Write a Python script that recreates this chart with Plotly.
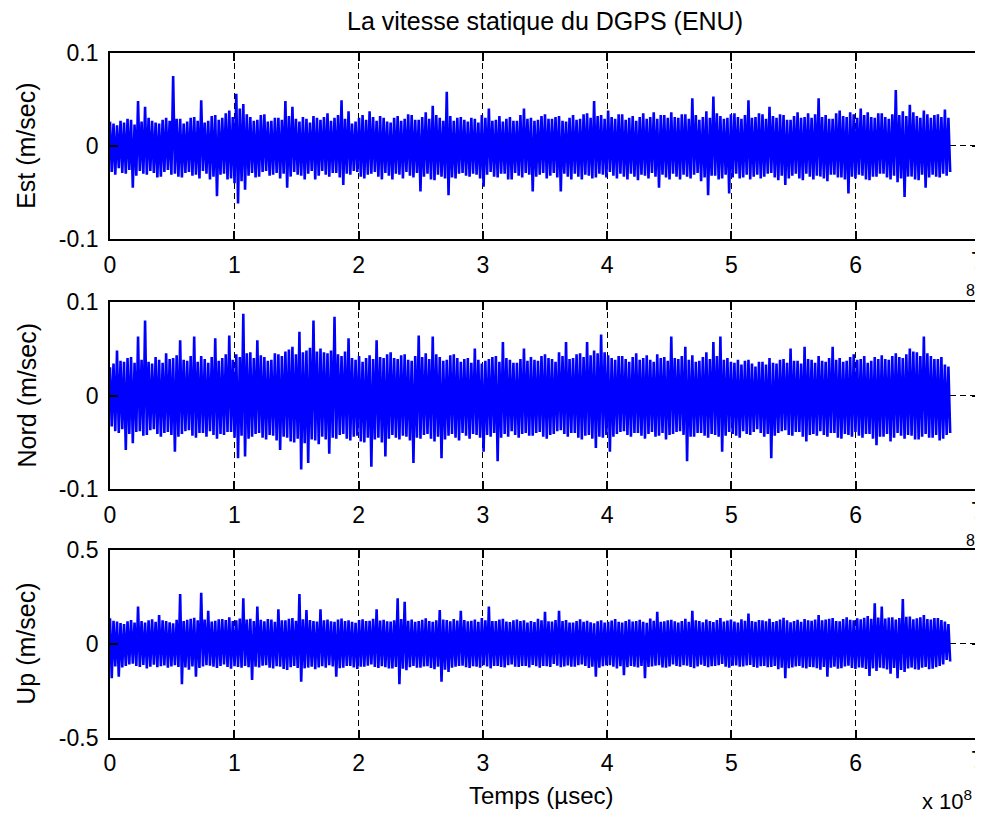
import numpy as np
import plotly.graph_objects as go

# Vitesse statique DGPS, en mm/s (pics hauts / pics bas)
t_end = 6.76  # x 10^8 usec

est_hi = [26, 24, 22, 27, 25, 29, 28, 23, 48, 26, 42, 30, 27, 25, 24, 28, 30, 27, 75, 29,
          29, 24, 26, 30, 31, 27, 49, 25, 27, 32, 33, 28, 30, 35, 38, 31, 56, 40, 45, 34,
          31, 27, 28, 33, 34, 26, 27, 30, 30, 28, 48, 32, 42, 29, 26, 31, 29, 25, 32, 30,
          28, 31, 35, 27, 30, 33, 49, 29, 37, 24, 26, 30, 33, 28, 37, 31, 27, 32, 30, 26,
          25, 30, 32, 27, 29, 34, 33, 28, 28, 31, 36, 29, 43, 33, 30, 27, 58, 32, 27, 30,
          31, 28, 26, 30, 29, 25, 33, 30, 40, 27, 28, 32, 26, 29, 31, 27, 27, 33, 40, 29,
          30, 27, 28, 32, 34, 29, 29, 31, 32, 27, 26, 30, 33, 28, 29, 34, 35, 30, 48, 32,
          33, 29, 38, 31, 29, 34, 34, 28, 30, 32, 27, 31, 35, 29, 31, 36, 29, 33, 33, 30,
          36, 31, 30, 34, 34, 29, 51, 33, 28, 31, 37, 30, 53, 35, 32, 29, 30, 34, 35, 31,
          29, 33, 49, 30, 31, 35, 34, 29, 42, 32, 30, 34, 33, 28, 28, 32, 36, 30, 31, 35,
          30, 34, 51, 31, 33, 29, 29, 35, 38, 32, 31, 36, 34, 30, 40, 33, 36, 31, 30, 35,
          35, 31, 29, 34, 60, 33, 37, 32, 44, 36, 32, 30, 38, 34, 30, 33, 34, 31, 39, 30]
est_lo = [-28, -31, -24, -29, -30, -26, -45, -32, -27, -30, -31, -27, -29, -34, -33, -28, -26, -31, -30, -33,
          -34, -29, -28, -32, -31, -35, -27, -30, -36, -33, -54, -31, -30, -36, -35, -40, -62, -38, -47, -32,
          -29, -34, -33, -28, -27, -32, -31, -29, -35, -30, -45, -33, -28, -31, -32, -36, -30, -27, -36, -32,
          -27, -31, -33, -29, -29, -34, -42, -30, -31, -27, -28, -33, -35, -31, -30, -28, -33, -36, -29, -32,
          -36, -30, -31, -35, -28, -32, -34, -29, -49, -33, -30, -36, -37, -31, -33, -35, -53, -34, -35, -30,
          -29, -32, -33, -30, -31, -35, -44, -31, -28, -33, -34, -30, -30, -36, -36, -29, -32, -34, -29, -31,
          -49, -33, -31, -29, -35, -32, -29, -34, -49, -30, -33, -36, -30, -33, -36, -31, -32, -35, -34, -30,
          -31, -34, -28, -32, -35, -30, -33, -36, -30, -33, -37, -31, -32, -35, -29, -33, -45, -31, -34, -36,
          -30, -33, -36, -31, -33, -35, -31, -29, -38, -34, -53, -32, -32, -36, -35, -31, -51, -34, -30, -35,
          -34, -31, -36, -33, -31, -35, -33, -30, -29, -34, -37, -32, -42, -35, -32, -30, -35, -37, -30, -33,
          -36, -32, -33, -35, -38, -31, -31, -34, -34, -36, -51, -33, -35, -31, -32, -36, -37, -33, -33, -30,
          -30, -34, -36, -32, -39, -35, -55, -33, -33, -36, -37, -31, -45, -34, -31, -33, -34, -30, -32, -28]

nord_hi = [30, 34, 48, 37, 36, 40, 41, 35, 63, 38, 80, 36, 34, 41, 38, 35, 45, 39, 40, 43,
           59, 38, 37, 42, 63, 36, 42, 39, 35, 41, 61, 37, 40, 44, 64, 38, 44, 41, 87, 45,
           46, 40, 59, 43, 41, 37, 38, 45, 44, 42, 47, 49, 52, 44, 68, 46, 48, 51, 80, 47,
           50, 46, 45, 48, 84, 44, 42, 47, 61, 40, 38, 42, 36, 40, 43, 39, 59, 41, 40, 44,
           46, 40, 39, 43, 44, 38, 37, 42, 64, 41, 45, 39, 63, 44, 41, 37, 38, 43, 44, 40,
           36, 39, 40, 35, 50, 38, 34, 37, 39, 41, 42, 36, 57, 40, 38, 35, 35, 39, 50, 37,
           41, 38, 37, 42, 44, 40, 39, 36, 46, 42, 57, 39, 40, 44, 45, 41, 57, 43, 48, 45,
           65, 46, 43, 40, 38, 42, 42, 39, 36, 41, 45, 38, 40, 43, 38, 36, 44, 40, 41, 37,
           63, 40, 39, 42, 52, 38, 43, 36, 37, 41, 46, 39, 57, 42, 63, 38, 40, 36, 35, 38,
           33, 37, 38, 34, 31, 36, 36, 33, 40, 35, 34, 38, 39, 35, 50, 37, 37, 34, 52, 39,
           38, 35, 42, 37, 36, 40, 52, 38, 40, 36, 37, 41, 44, 38, 39, 42, 35, 37, 41, 39,
           43, 39, 38, 42, 45, 41, 40, 44, 50, 47, 46, 42, 63, 45, 42, 39, 39, 41, 33, 31]
nord_lo = [-33, -38, -40, -36, -58, -41, -51, -39, -38, -43, -42, -37, -36, -41, -44, -40, -39, -42, -60, -44,
           -41, -38, -37, -43, -45, -40, -40, -44, -38, -42, -46, -41, -42, -39, -39, -45, -67, -43, -65, -46,
           -44, -41, -40, -45, -47, -42, -43, -48, -58, -44, -45, -49, -50, -46, -79, -51, -72, -47, -48, -52,
           -44, -47, -62, -45, -46, -42, -41, -46, -48, -44, -43, -49, -50, -45, -76, -47, -45, -50, -65, -46,
           -42, -45, -47, -43, -44, -48, -72, -45, -46, -42, -41, -46, -49, -44, -67, -47, -43, -41, -45, -48,
           -40, -43, -46, -41, -42, -45, -60, -42, -44, -40, -70, -45, -41, -44, -38, -42, -45, -41, -40, -43,
           -43, -40, -39, -44, -46, -42, -41, -38, -37, -41, -44, -40, -40, -45, -47, -43, -42, -46, -56, -44,
           -45, -42, -60, -44, -41, -39, -38, -42, -44, -40, -40, -43, -46, -41, -39, -44, -43, -40, -47, -42,
           -41, -39, -38, -42, -70, -44, -44, -40, -40, -43, -45, -41, -42, -44, -60, -43, -39, -41, -43, -45,
           -38, -41, -42, -39, -36, -40, -44, -41, -67, -43, -40, -38, -37, -42, -43, -39, -39, -44, -49, -42,
           -41, -43, -38, -42, -44, -40, -40, -45, -46, -41, -42, -44, -39, -43, -45, -41, -41, -46, -53, -44,
           -44, -41, -49, -45, -40, -43, -46, -42, -43, -47, -47, -44, -41, -45, -45, -42, -48, -46, -42, -40]

up_hi = [135, 122, 118, 110, 104, 119, 126, 113, 197, 121, 112, 125, 130, 117, 152, 124, 121, 114, 109, 127,
         264, 120, 127, 133, 138, 124, 271, 129, 175, 118, 122, 130, 131, 126, 140, 121, 125, 134, 241, 128,
         133, 121, 197, 127, 119, 131, 128, 116, 183, 125, 124, 132, 136, 122, 264, 130, 179, 126, 121, 118,
         183, 124, 129, 119, 116, 128, 134, 121, 125, 117, 111, 126, 130, 120, 122, 132, 183, 123, 127, 119,
         118, 125, 241, 131, 223, 122, 129, 116, 120, 127, 135, 121, 117, 124, 179, 128, 126, 119, 131, 123,
         175, 126, 119, 122, 128, 117, 137, 125, 197, 120, 121, 129, 133, 118, 115, 124, 129, 121, 124, 113,
         120, 115, 132, 124, 170, 119, 118, 126, 175, 121, 126, 112, 113, 120, 130, 117, 122, 114, 108, 119,
         125, 113, 117, 123, 131, 116, 112, 120, 128, 118, 121, 127, 116, 111, 134, 122, 170, 117, 119, 124,
         127, 119, 113, 121, 132, 116, 175, 124, 120, 114, 129, 121, 115, 126, 136, 118, 123, 128, 118, 112,
         130, 122, 161, 120, 117, 126, 125, 119, 133, 115, 120, 128, 138, 124, 114, 121, 127, 117, 131, 125,
         122, 129, 152, 124, 128, 133, 136, 121, 119, 131, 141, 127, 125, 135, 130, 138, 147, 132, 215, 139,
         197, 134, 139, 141, 128, 136, 238, 143, 144, 130, 135, 140, 152, 131, 129, 137, 137, 126, 118, 104]
up_lo = [-184, -121, -175, -126, -118, -111, -106, -119, -124, -113, -131, -122, -112, -125, -120, -116, -127, -121, -115, -124,
         -215, -126, -138, -121, -175, -129, -121, -115, -117, -123, -129, -118, -110, -124, -133, -120, -124, -128, -119, -125,
         -193, -123, -126, -117, -114, -128, -131, -120, -122, -134, -140, -125, -118, -129, -202, -131, -127, -122, -136, -126,
         -120, -127, -115, -121, -175, -130, -128, -118, -119, -126, -134, -122, -123, -117, -111, -124, -129, -120, -125, -131,
         -132, -124, -216, -133, -141, -125, -118, -127, -127, -121, -120, -129, -135, -123, -202, -138, -150, -128, -123, -119,
         -117, -125, -129, -120, -122, -127, -114, -121, -131, -118, -119, -124, -126, -115, -110, -122, -124, -119, -118, -126,
         -113, -120, -127, -118, -120, -124, -108, -117, -125, -121, -116, -123, -122, -114, -111, -119, -129, -122, -175, -127,
         -120, -116, -114, -123, -132, -120, -167, -125, -119, -122, -126, -118, -184, -124, -121, -117, -115, -126, -128, -121,
         -110, -119, -123, -115, -117, -124, -130, -121, -112, -118, -125, -120, -119, -114, -108, -122, -127, -117, -116, -123,
         -121, -116, -113, -124, -128, -120, -118, -125, -124, -119, -135, -127, -184, -130, -126, -121, -119, -128, -131, -124,
         -125, -130, -138, -124, -175, -127, -122, -133, -130, -121, -117, -129, -134, -126, -128, -135, -172, -131, -145, -128,
         -131, -137, -160, -129, -184, -140, -150, -132, -127, -135, -139, -128, -124, -136, -133, -125, -118, -110, -87, -95]

x_ticks = [0, 1, 2, 3, 4, 5, 6, 7]
# le "7" du bord droit est posé en annotation pour rester visible
x_ticktext = ["0", "1", "2", "3", "4", "5", "6", ""]
x_last_label = "7"
y_ticks_small = [-0.1, 0, 0.1]
y_ticktext_small = ["-0.1", "0", "0.1"]
y_ticks_up = [-0.5, 0, 0.5]
y_ticktext_up = ["-0.5", "0", "0.5"]


def interleave(hi, lo):
    y = np.empty(len(hi) + len(lo))
    y[0::2] = hi
    y[1::2] = lo
    return y / 1000.0  # mm/s -> m/s


series = [
    ("Est (m/sec)", interleave(est_hi, est_lo), y_ticks_small, y_ticktext_small),
    ("Nord (m/sec)", interleave(nord_hi, nord_lo), y_ticks_small, y_ticktext_small),
    ("Up (m/sec)", interleave(up_hi, up_lo), y_ticks_up, y_ticktext_up),
]

# la page ajoute 8 px de marge autour de la figure
OFF = 8
W, H = 983 - OFF, 821 - OFF


def px(x):
    return (x - OFF) / W


def py(y):
    return 1 - (y - OFF) / H


# zones des axes en pixels de page (haut, bas)
rows = [(52.7, 239.0), (301.7, 489.3), (549.7, 737.7)]
x_left, x_right = 110, 980

FONT = "Liberation Sans, Arial, sans-serif"

fig = go.Figure()
annotations = []

for k, (label, y, tv, tt) in enumerate(series):
    n = k + 1
    t = np.linspace(0, t_end, len(y))
    xa = "x" if n == 1 else f"x{n}"
    ya = "y" if n == 1 else f"y{n}"
    fig.add_trace(go.Scatter(x=t, y=y, mode="lines", xaxis=xa, yaxis=ya,
                             line=dict(color="#0000ff", width=2.6),
                             showlegend=False, hoverinfo="skip"))
    top, bot = rows[k]
    axis_common = dict(showline=True, linecolor="black", linewidth=1.8,
                       mirror="ticks", ticks="inside", ticklen=8,
                       tickcolor="black", tickwidth=1.5,
                       showgrid=True, gridcolor="black", gridwidth=1,
                       griddash="6px,4px", zeroline=False,
                       automargin=False, ticklabeloverflow="allow",
                       tickfont=dict(family=FONT, size=23, color="black"))
    fig.layout[("xaxis" if n == 1 else f"xaxis{n}")] = dict(
        axis_common, domain=[px(x_left), px(x_right)], range=[0, 7],
        tickvals=x_ticks, ticktext=x_ticktext, anchor=ya,
        ticklabelstandoff=4)
    fig.layout[("yaxis" if n == 1 else f"yaxis{n}")] = dict(
        axis_common, domain=[py(bot), py(top)], range=[tv[0], tv[-1]],
        tickvals=tv, ticktext=tt, anchor=xa, ticklabelstandoff=5)
    annotations.append(dict(text=label, x=px(26), y=py((top + bot) / 2),
                            xref="paper", yref="paper", textangle=-90,
                            showarrow=False, xanchor="center", yanchor="middle",
                            font=dict(family=FONT, size=25, color="black")))
    annotations.append(dict(text=x_last_label, x=px(977), y=py(bot + 22),
                            xref="paper", yref="paper", showarrow=False,
                            xanchor="center", yanchor="middle",
                            font=dict(family=FONT, size=23, color="black")))

annotations += [
    dict(text="La vitesse statique du DGPS (ENU)", x=px(545), y=py(21),
         font=dict(family=FONT, size=25, color="black")),
    dict(text="Temps (µsec)", x=px(541), y=py(795),
         font=dict(family=FONT, size=24, color="black")),
    dict(text="x 10<sup>8</sup>", x=px(947), y=py(800),
         font=dict(family=FONT, size=22, color="black")),
    dict(text="8", x=px(970), y=py(291),
         font=dict(family=FONT, size=16, color="black")),
    dict(text="8", x=px(970), y=py(540),
         font=dict(family=FONT, size=16, color="black")),
]
for a in annotations[6:]:
    a.update(xref="paper", yref="paper", showarrow=False,
             xanchor="center", yanchor="middle")

fig.update_layout(width=W, height=H, margin=dict(l=0, r=0, t=0, b=0),
                  paper_bgcolor="white", plot_bgcolor="white",
                  annotations=annotations)

fig.write_html("out.html")
